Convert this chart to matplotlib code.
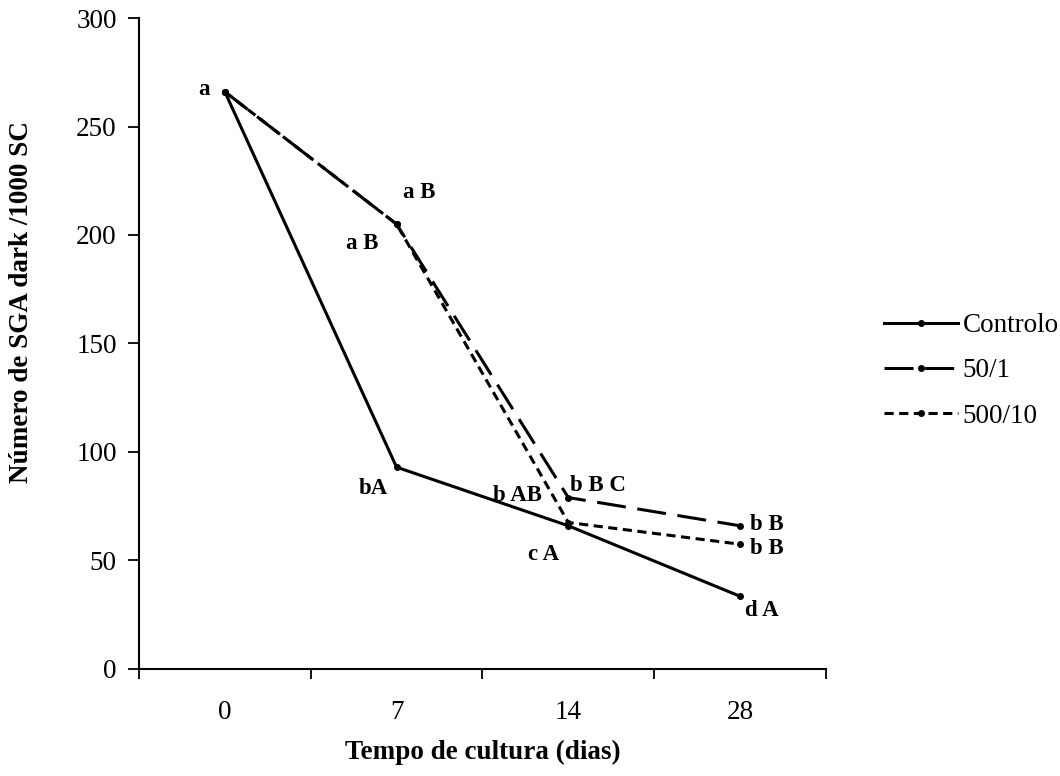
import matplotlib.pyplot as plt
import numpy as np

plt.rcParams["font.family"] = ["Liberation Serif", "DejaVu Serif"]

dias = ["0", "7", "14", "28"]
controlo = [266, 93, 66, 33.5]
s50_1 = [266, 205, 79, 66]
s500_10 = [266, 205, 67.5, 57.5]

# letters of the statistical groups, (category index, value, text, dx, dy in points)
letras = [
    (0, 266, "a", -15, 2),
    (1, 205, "a B", 16, 23),
    (1, 205, "a B", -25, -14),
    (1, 93, "bA", -17, -15),
    (2, 66, "b AB", -37, 22),
    (2, 79, "b B C", 21, 9),
    (2, 66, "c A", -18, -21),
    (3, 66, "b B", 19, 1),
    (3, 57.5, "b B", 19, -3),
    (3, 33.5, "d A", 16, -10),
]

x = np.arange(len(dias))

fig = plt.figure(figsize=(10.6, 7.76), dpi=100)
ax = fig.add_axes([0.1311, 0.1379, 0.6481, 0.8389])

lw = 2.2
ax.plot(x, controlo, color="black", lw=lw, marker="o", ms=4, label="Controlo")
ax.plot(x, s50_1, color="black", lw=lw, marker="o", ms=4, dashes=(9.5, 3.8), label="50/1")
ax.plot(x, s500_10, color="black", lw=lw, marker="o", ms=4, dashes=(3, 1.8), label="500/10")

for i, v, t, dx, dy in letras:
    ax.annotate(t, (x[i], v), xytext=(dx, dy), textcoords="offset points",
                ha="center", va="center", fontsize=16.5, fontweight="bold")

ax.set_xlim(-0.5, len(dias) - 0.5)
ax.set_ylim(0, 300)
ax.set_yticks(np.arange(0, 301, 50))
ax.set_xticks(np.arange(-0.5, len(dias)), minor=False)
ax.set_xticklabels([])
ax.set_xticks(x, minor=True)
ax.set_xticklabels(dias, minor=True)
ax.tick_params(axis="x", which="major", direction="out", length=7, width=1.3)
ax.tick_params(axis="x", which="minor", length=0, pad=22, labelsize=19.5)
ax.tick_params(axis="y", direction="out", length=8, width=1.3, labelsize=19.5, pad=8)

for s in ["top", "right"]:
    ax.spines[s].set_visible(False)
for s in ["left", "bottom"]:
    ax.spines[s].set_linewidth(1.5)

ax.set_xlabel("Tempo de cultura (dias)", fontsize=19.5, fontweight="bold", labelpad=11)
fig.text(22 / 1060, 1 - 302 / 776, "Número de SGA dark /1000 SC", rotation=90,
         ha="center", va="center", fontsize=19.5, fontweight="bold")

ax.legend(loc="center left", bbox_to_anchor=(1.049, 0.458), frameon=False,
          fontsize=19.5, handlelength=2.75, labelspacing=0.75, handletextpad=0.15)

fig.savefig("out.png", dpi=100)
